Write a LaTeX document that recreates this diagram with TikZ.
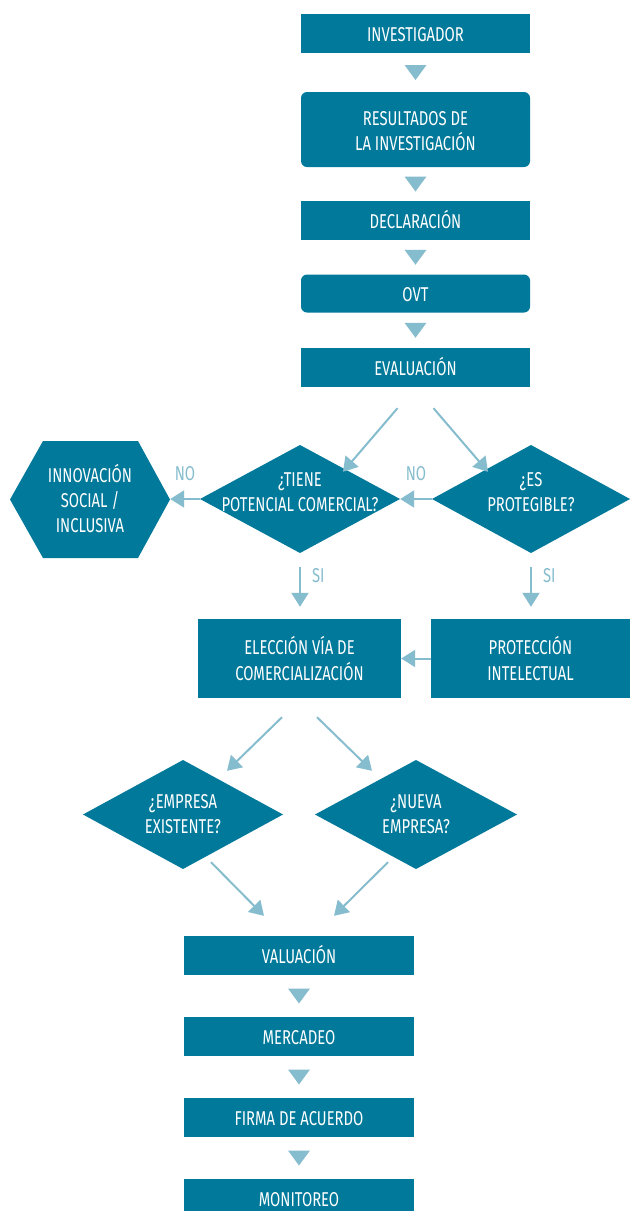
\documentclass[tikz,border=0pt]{standalone}
\usepackage{fontspec}
\setmainfont{Fira Sans}[FakeStretch=0.74]
\usetikzlibrary{arrows.meta,calc}
\definecolor{main}{HTML}{00799A}
\definecolor{arr}{HTML}{86BDCE}
\newcommand\flowtri[2]{\fill[arr] ($(#1.south)!0.5!(#2.north)+(-11,-7.5)$) -- ($(#1.south)!0.5!(#2.north)+(11,-7.5)$) -- ($(#1.south)!0.5!(#2.north)+(0,7.5)$) -- cycle;}
\begin{document}
\begin{tikzpicture}[x=1pt,y=-1pt,
  txt/.style={text=white, align=center, inner sep=0pt, font=\fontsize{20}{25}\selectfont},
  mbox/.style={txt, rectangle, fill=main, minimum width=229pt, minimum height=39pt},
  box/.style={mbox, text height=16.5pt, text depth=0pt},
  rbox/.style={box, rounded corners=6pt},
  dia/.style n args={2}{txt, rectangle, minimum width=#1pt, minimum height=#2pt,
    path picture={\fill[main] (path picture bounding box.north) -- (path picture bounding box.east) -- (path picture bounding box.south) -- (path picture bounding box.west) -- cycle;}},
  hexa/.style={txt, rectangle, minimum width=160pt, minimum height=117pt,
    path picture={\fill[main] (path picture bounding box.west) -- ($(path picture bounding box.north west)+(33,0)$) -- ($(path picture bounding box.north east)+(-32,0)$) -- (path picture bounding box.east) -- ($(path picture bounding box.south east)+(-32,0)$) -- ($(path picture bounding box.south west)+(33,0)$) -- cycle;}},
  conn/.style={draw=arr, line width=2pt, -{Triangle[width=17pt,length=14pt]}},
  lbl/.style={text=arr, inner sep=0pt, font=\fontsize{20}{25}\selectfont}
]
\fill[white] (0,0) rectangle (630,1211);
\useasboundingbox (0,0) rectangle (630,1211);
\clip (0,0) rectangle (630,1211);

% top column
\node[box]  (inv)  at (415.5,33.5) {INVESTIGADOR};
\node[mbox, rounded corners=6pt, minimum height=75pt] (res) at (415.5,129.5) {\rule{0pt}{18pt}RESULTADOS DE\\LA INVESTIGACIÓN};
\node[box]  (dec)  at (415.5,220.5) {DECLARACIÓN};
\node[rbox, minimum height=38pt] (ovt) at (415.5,293.5) {OVT};
\node[box]  (eval) at (415.5,367.5) {EVALUACIÓN};
\flowtri{inv}{res}
\flowtri{res}{dec}
\flowtri{dec}{ovt}
\flowtri{ovt}{eval}

% decisions
\node[dia={200}{108}] (tiene) at (300,499) {¿TIENE\\POTENCIAL COMERCIAL?\\[-11pt]\mbox{}};
\node[dia={198}{108}] (es) at (531,499) {¿ES\\PROTEGIBLE?\\[-11pt]\mbox{}};
\node[hexa] (innov) at (90,499.5) {INNOVACIÓN\\SOCIAL /\\INCLUSIVA\\[-22pt]\mbox{}};

\draw[conn] ($(eval.south)+(-18,21)$) -- ($(tiene.north)+(43,27)$);
\draw[conn] ($(eval.south)+(18,21)$) -- ($(es.north)+(-43,27)$);
\draw[conn] (es.west) -- (tiene.east) node[midway, above=17pt, lbl] {NO};
\draw[conn] (tiene.west) -- (innov.east |- tiene.west) node[midway, above=17pt, lbl] {NO};

\node[mbox, minimum width=203pt, minimum height=79pt] (elec) at (299.5,658.5) {ELECCIÓN VÍA DE\\COMERCIALIZACIÓN};
\node[mbox, minimum width=199pt, minimum height=79pt] (prot) at (530.5,658.5) {PROTECCIÓN\\INTELECTUAL};

\draw[conn] ($(tiene.south)+(0,14)$) -- ($(tiene.south |- elec.north)+(0,-12)$) node[pos=0.22, right=11pt, lbl] {SI};
\draw[conn] ($(es.south)+(0,14)$) -- ($(es.south |- prot.north)+(0,-12)$) node[pos=0.22, right=11pt, lbl] {SI};
\draw[conn] (prot.west) -- (elec.east);

\node[dia={200}{109}] (emp) at (183,814.5) {¿EMPRESA\\EXISTENTE?};
\node[dia={202}{109}] (nueva) at (416,814.5) {¿NUEVA\\EMPRESA?};
\draw[conn] ($(elec.south)+(-17.5,19)$) -- ($(emp.north)+(44,11)$);
\draw[conn] ($(elec.south)+(17.5,19)$) -- ($(nueva.north)+(-44,11)$);

% bottom column
\node[box, minimum width=230pt] (val)   at (299,955.5)  {VALUACIÓN};
\node[box, minimum width=230pt] (merc)  at (299,1036.5) {MERCADEO};
\node[box, minimum width=230pt] (firma) at (299,1117.5) {FIRMA DE ACUERDO};
\node[box, minimum width=230pt] (mon)   at (299,1198.5) {MONITOREO};

\draw[conn] ($(emp.south)+(28,-7)$) -- ($(val.north)+(-35,-20)$);
\draw[conn] ($(nueva.south)+(-28,-7)$) -- ($(val.north)+(35,-20)$);
\flowtri{val}{merc}
\flowtri{merc}{firma}
\flowtri{firma}{mon}
\end{tikzpicture}
\end{document}
